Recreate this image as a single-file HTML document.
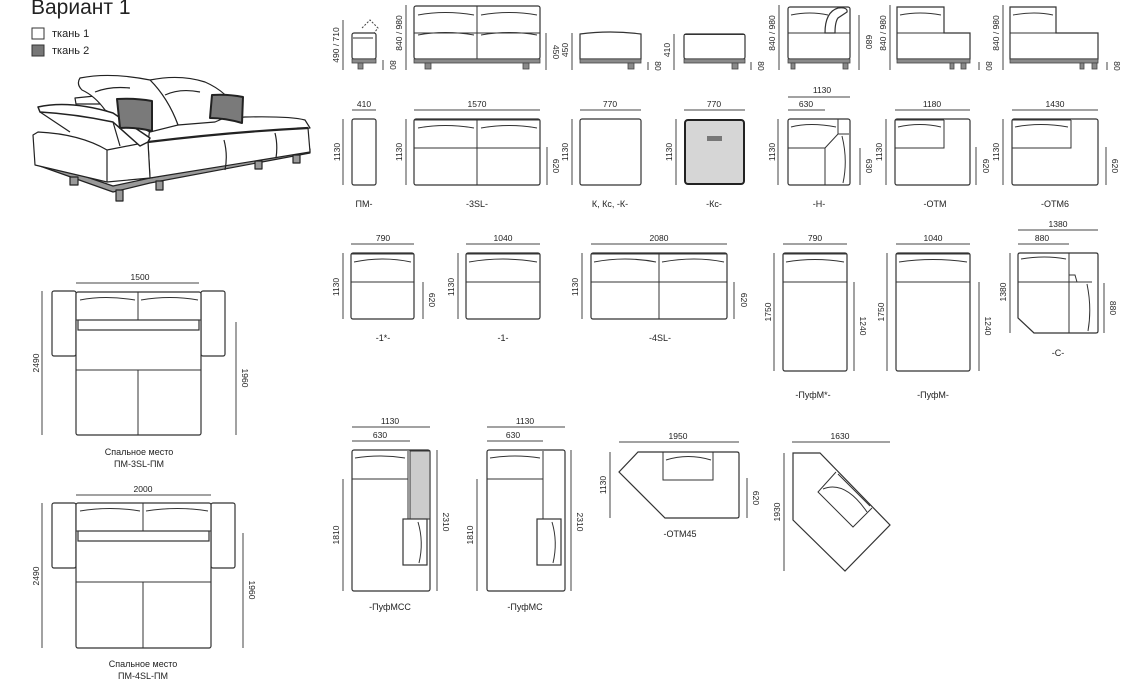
<!DOCTYPE html>
<html><head><meta charset="utf-8"><style>
html,body{margin:0;padding:0;background:#fff;}
svg{display:block;font-family:"Liberation Sans",sans-serif;}
.o{fill:#fff;stroke:#333;stroke-width:1.2;}
.l{fill:none;stroke:#333;stroke-width:1;}
.d{fill:none;stroke:#444;stroke-width:1;}
.g{fill:#8a8a8a;stroke:#444;stroke-width:.8;}
.t{font-size:8.5px;fill:#222;text-anchor:middle;}
.lb{font-size:9px;fill:#222;text-anchor:middle;}
</style></head><body>
<svg width="1121" height="695" viewBox="0 0 1121 695" xmlns="http://www.w3.org/2000/svg">
<text x="31" y="14" font-size="21" fill="#222">Вариант 1</text>
<rect x="32" y="28" width="12" height="11" fill="#fff" stroke="#333"/>
<text x="52" y="37" font-size="11" fill="#222">ткань 1</text>
<rect x="32" y="45" width="12" height="11" fill="#777" stroke="#333"/>
<text x="52" y="54" font-size="11" fill="#222">ткань 2</text>

<!-- perspective sofa -->
<g stroke="#222" stroke-width="1.2" fill="#fff" stroke-linejoin="round">
<path d="M37,165 L113,192 L150,183 L310,153 L310,149 L150,178 L113,186 L37,160Z" fill="#999"/>
<rect x="70" y="177" width="8" height="8" fill="#999"/>
<rect x="116" y="190" width="7" height="11" fill="#999"/>
<rect x="156" y="181" width="7" height="9" fill="#999"/>
<rect x="255" y="161" width="7" height="8" fill="#999"/>
<rect x="293" y="155" width="7" height="8" fill="#999"/>
<path d="M75,98 L95,96 L100,104 L76,104Z"/>
<!-- seat top face -->
<path d="M150,128 Q200,120 245,117 Q290,116 305,120 L310,128 Q230,132 148,142Z"/>
<!-- right back cushion -->
<path d="M150,80 Q180,74 205,82 Q228,92 238,112 L215,122 L178,125 Q168,98 150,80Z"/>
<path d="M165,95 Q180,88 200,92" fill="none"/>
<!-- left back cushion -->
<path d="M80,78 Q110,72 150,80 Q168,98 178,125 L150,132 L105,110 Q95,96 82,90 Q76,84 80,78Z"/>
<path d="M95,92 Q110,86 130,88" fill="none"/>
<!-- main seat front -->
<path d="M148,142 Q230,132 308,128 L310,152 L150,178 Z"/>
<path d="M148,142 Q230,132 308,128" fill="none" stroke-width="2.2"/>
<path d="M224,140 Q228,155 225,170 M275,133 Q278,145 276,158" fill="none"/>
<!-- left box -->
<path d="M33,135 L38,132 Q80,134 107,150 L148,142 L150,178 L107,182 L35,165Z"/>
<path d="M107,150 L107,182" fill="none"/>
<!-- lid -->
<path d="M38,107 Q70,100 113,113 L150,138 L148,142 L140,146 L113,122 Q75,114 40,112Z" stroke-width="1.5"/>
<path d="M40,112 L70,132 M113,122 L120,146" fill="none"/>
<path d="M117,99 Q135,98 152,101 L152,131 Q135,127 120,128Z" fill="#7a7a7a" stroke-width="2"/>
<path d="M212,95 Q228,94 243,97 L242,123 Q225,118 210,118Z" fill="#7a7a7a" stroke-width="2"/>
</g>

<!-- ===== Row 1 front views ===== -->
<g>
<path class="d" d="M343,20 V70"/><text class="t" transform="translate(339,45) rotate(-90)">490 / 710</text>
<rect class="o" x="352" y="33" width="24" height="26" rx="2"/><path class="l" d="M353,38 H373" stroke-width="2"/>
<path class="d" stroke-dasharray="2,1.5" d="M362,28 L370,20 L378,28 L374,33"/>
<rect class="g" x="352" y="59" width="24" height="4"/><rect class="g" x="358" y="63" width="5" height="6"/>
<path class="d" d="M383,60 V70"/><text class="t" transform="translate(390,65) rotate(90)">80</text>
<path class="d" d="M406,5 V70"/><text class="t" transform="translate(402,33) rotate(-90)">840 / 980</text>
<rect class="o" x="414" y="6" width="126" height="53" rx="2"/>
<path class="l" d="M414,33 H540 M477,6 V59" stroke-width="1.5"/>
<path class="l" d="M418,15 Q445,10 474,15 M481,15 Q510,10 537,15 M418,35 Q445,30 474,35 M481,35 Q510,30 537,35"/>
<rect class="g" x="414" y="59" width="126" height="4"/><rect class="g" x="425" y="63" width="6" height="6"/><rect class="g" x="523" y="63" width="6" height="6"/>
<path class="d" d="M546,33 V70"/><text class="t" transform="translate(553,52) rotate(90)">450</text>
<path class="d" d="M572,33 V70"/><text class="t" transform="translate(568,50) rotate(-90)">450</text>
<path class="o" d="M580,34 Q610,30 641,34 V59 H580Z"/>
<rect class="g" x="580" y="59" width="61" height="4"/><rect class="g" x="628" y="63" width="6" height="6"/>
<path class="d" d="M648,62 V70"/><text class="t" transform="translate(655,66) rotate(90)">80</text>
<path class="d" d="M674,34 V70"/><text class="t" transform="translate(670,50) rotate(-90)">410</text>
<rect class="o" x="684" y="34" width="61" height="25" rx="2"/><path class="l" d="M684,34.5 H745" stroke-width="2"/>
<rect class="g" x="684" y="59" width="61" height="4"/><rect class="g" x="732" y="63" width="6" height="6"/>
<path class="d" d="M751,62 V70"/><text class="t" transform="translate(758,66) rotate(90)">80</text>
<path class="d" d="M779,5 V70"/><text class="t" transform="translate(775,33) rotate(-90)">840 / 980</text>
<rect class="o" x="788" y="7" width="62" height="52" rx="2"/>
<path class="l" d="M788,33 H850 M791,15 Q810,11 828,15"/>
<path class="o" d="M825,33 Q825,12 838,8 Q848,7 847,12 L838,18 Q835,22 835,33Z"/>
<rect class="g" x="788" y="59" width="62" height="4"/><rect class="g" x="791" y="63" width="4" height="6"/><rect class="g" x="843" y="63" width="5" height="6"/>
<path class="d" d="M859,15 V70"/><text class="t" transform="translate(866,42) rotate(90)">680</text>
<path class="d" d="M890,5 V70"/><text class="t" transform="translate(886,33) rotate(-90)">840 / 980</text>
<path class="o" d="M897,7 H944 V33 H970 V59 H897Z"/>
<path class="l" d="M897,33 H944 M900,15 Q920,11 941,15"/>
<rect class="g" x="897" y="59" width="73" height="4"/><rect class="g" x="950" y="63" width="4" height="6"/><rect class="g" x="961" y="63" width="5" height="6"/>
<path class="d" d="M979,62 V70"/><text class="t" transform="translate(986,66) rotate(90)">80</text>
<path class="d" d="M1003,5 V70"/><text class="t" transform="translate(999,33) rotate(-90)">840 / 980</text>
<path class="o" d="M1010,7 H1056 V33 H1098 V59 H1010Z"/>
<path class="l" d="M1010,33 H1056 M1013,15 Q1035,11 1053,15"/>
<rect class="g" x="1010" y="59" width="88" height="4"/><rect class="g" x="1080" y="63" width="4" height="6"/><rect class="g" x="1092" y="63" width="5" height="6"/>
<path class="d" d="M1107,62 V70"/><text class="t" transform="translate(1114,66) rotate(90)">80</text>
</g>

<!-- ===== Row 2 top views ===== -->
<g>
<text class="t" x="364" y="107">410</text><path class="d" d="M352,110 H376"/>
<path class="d" d="M343,119 V185"/><text class="t" transform="translate(340,152) rotate(-90)">1130</text>
<rect class="o" x="352" y="119" width="24" height="66" rx="2"/>
<text class="lb" x="364" y="207">ПМ-</text>

<text class="t" x="477" y="107">1570</text><path class="d" d="M414,110 H540"/>
<path class="d" d="M406,119 V185"/><text class="t" transform="translate(402,152) rotate(-90)">1130</text>
<rect class="o" x="414" y="119" width="126" height="66" rx="2"/>
<path class="l" d="M414,148 H540 M477,119 V185"/><path class="l" d="M414,120 H540" stroke-width="2"/>
<path class="l" d="M418,128 Q445,123 474,128 M481,128 Q510,123 537,128"/>
<path class="d" d="M547,147 V185"/><text class="t" transform="translate(553,166) rotate(90)">620</text>
<text class="lb" x="477" y="207">-3SL-</text>

<text class="t" x="610" y="107">770</text><path class="d" d="M580,110 H641"/>
<path class="d" d="M572,119 V185"/><text class="t" transform="translate(568,152) rotate(-90)">1130</text>
<rect class="o" x="580" y="119" width="61" height="66" rx="2"/>
<text class="lb" x="610" y="207">К, Кс, -К-</text>

<text class="t" x="714" y="107">770</text><path class="d" d="M684,110 H745"/>
<path class="d" d="M676,119 V185"/><text class="t" transform="translate(672,152) rotate(-90)">1130</text>
<rect x="685" y="120" width="59" height="64" rx="3" fill="#d6d6d6" stroke="#222" stroke-width="2"/>
<rect x="707" y="136" width="15" height="5" fill="#777"/>
<text class="lb" x="714" y="207">-Кс-</text>

<text class="t" x="822" y="93">1130</text><path class="d" d="M788,97 H850"/>
<text class="t" x="806" y="107">630</text><path class="d" d="M788,110 H825"/>
<path class="d" d="M778,119 V185"/><text class="t" transform="translate(775,152) rotate(-90)">1130</text>
<rect class="o" x="788" y="119" width="62" height="66" rx="2"/>
<path class="l" d="M788,148 H825 V185 M825,148 L838,134 H849 M838,134 V119 M791,127 Q810,122 836,127 M842,136 Q848,160 843,183"/>
<path class="d" d="M860,148 V185"/><text class="t" transform="translate(866,166) rotate(90)">630</text>
<text class="lb" x="819" y="207">-Н-</text>

<text class="t" x="932" y="107">1180</text><path class="d" d="M895,110 H970"/>
<path class="d" d="M886,119 V185"/><text class="t" transform="translate(882,152) rotate(-90)">1130</text>
<rect class="o" x="895" y="119" width="75" height="66" rx="2"/>
<path class="l" d="M895,148 H944 V120 M898,127 Q920,122 941,127"/><path class="l" d="M895,120 H944" stroke-width="2"/>
<path class="d" d="M976,147 V185"/><text class="t" transform="translate(983,166) rotate(90)">620</text>
<text class="lb" x="935" y="207">-ОТМ</text>

<text class="t" x="1055" y="107">1430</text><path class="d" d="M1012,110 H1098"/>
<path class="d" d="M1003,119 V185"/><text class="t" transform="translate(999,152) rotate(-90)">1130</text>
<rect class="o" x="1012" y="119" width="86" height="66" rx="2"/>
<path class="l" d="M1012,148 H1071 V120 M1015,127 Q1040,122 1068,127"/><path class="l" d="M1012,120 H1071" stroke-width="2"/>
<path class="d" d="M1106,147 V185"/><text class="t" transform="translate(1112,166) rotate(90)">620</text>
<text class="lb" x="1055" y="207">-ОТМ6</text>
</g>

<!-- ===== Row 3 ===== -->
<g>
<text class="t" x="383" y="241">790</text><path class="d" d="M351,244 H414"/>
<path class="d" d="M343,253 V319"/><text class="t" transform="translate(339,287) rotate(-90)">1130</text>
<rect class="o" x="351" y="253" width="63" height="66" rx="2"/>
<path class="l" d="M351,282 H414 M354,262 Q383,256 411,262" stroke-width="1.3"/><path class="l" d="M351,254 H414" stroke-width="2"/>
<path class="d" d="M423,282 V319"/><text class="t" transform="translate(429,300) rotate(90)">620</text>
<text class="lb" x="383" y="341">-1*-</text>

<text class="t" x="503" y="241">1040</text><path class="d" d="M466,244 H540"/>
<path class="d" d="M458,253 V319"/><text class="t" transform="translate(454,287) rotate(-90)">1130</text>
<rect class="o" x="466" y="253" width="74" height="66" rx="2"/>
<path class="l" d="M466,282 H540 M469,262 Q503,256 537,262" stroke-width="1.3"/><path class="l" d="M466,254 H540" stroke-width="2"/>
<text class="lb" x="503" y="341">-1-</text>

<text class="t" x="659" y="241">2080</text><path class="d" d="M591,244 H727"/>
<path class="d" d="M582,253 V319"/><text class="t" transform="translate(578,287) rotate(-90)">1130</text>
<rect class="o" x="591" y="253" width="136" height="66" rx="2"/>
<path class="l" d="M591,282 H727 M659,254 V319 M594,262 Q625,256 656,262 M662,262 Q695,256 724,262" stroke-width="1.3"/><path class="l" d="M591,254 H727" stroke-width="2.5"/>
<path class="d" d="M734,282 V319"/><text class="t" transform="translate(741,300) rotate(90)">620</text>
<text class="lb" x="660" y="341">-4SL-</text>

<text class="t" x="815" y="241">790</text><path class="d" d="M783,244 H847"/>
<path class="d" d="M774,253 V371"/><text class="t" transform="translate(771,312) rotate(-90)">1750</text>
<rect class="o" x="783" y="253" width="64" height="118" rx="2"/>
<path class="l" d="M783,282 H847 M786,262 Q815,257 844,262" stroke-width="1.3"/><path class="l" d="M783,254 H847" stroke-width="2"/>
<path class="d" d="M854,282 V371"/><text class="t" transform="translate(860,326) rotate(90)">1240</text>
<text class="lb" x="813" y="398">-ПуфМ*-</text>

<text class="t" x="933" y="241">1040</text><path class="d" d="M896,244 H970"/>
<path class="d" d="M887,253 V371"/><text class="t" transform="translate(884,312) rotate(-90)">1750</text>
<rect class="o" x="896" y="253" width="74" height="118" rx="2"/>
<path class="l" d="M896,282 H970 M899,262 Q933,257 967,262" stroke-width="1.3"/><path class="l" d="M896,254 H970" stroke-width="2"/>
<path class="d" d="M979,282 V371"/><text class="t" transform="translate(985,326) rotate(90)">1240</text>
<text class="lb" x="933" y="398">-ПуфМ-</text>

<text class="t" x="1058" y="227">1380</text><path class="d" d="M1018,230 H1098"/>
<text class="t" x="1042" y="241">880</text><path class="d" d="M1018,244 H1069"/>
<path class="d" d="M1010,253 V333"/><text class="t" transform="translate(1006,292) rotate(-90)">1380</text>
<path class="o" d="M1018,255 Q1018,253 1020,253 H1096 Q1098,253 1098,255 V331 Q1098,333 1096,333 H1034 L1018,318Z"/>
<path class="l" d="M1018,282 H1069 V253 M1069,282 V333 M1069,282 H1092 M1069,275 H1075 L1077,282 M1021,259 Q1045,255 1066,259 M1087,284 Q1092,308 1088,331"/>
<path class="d" d="M1104,283 V333"/><text class="t" transform="translate(1110,308) rotate(90)">880</text>
<text class="lb" x="1058" y="356">-С-</text>
</g>

<!-- ===== Row 4 ===== -->
<g>
<text class="t" x="390" y="424">1130</text><path class="d" d="M352,427 H430"/>
<text class="t" x="380" y="438">630</text><path class="d" d="M352,441 H410"/>
<path class="d" d="M343,479 V591"/><text class="t" transform="translate(339,535) rotate(-90)">1810</text>
<rect class="o" x="352" y="450" width="78" height="141" rx="2"/>
<rect x="410" y="451" width="20" height="68" fill="#ccc" stroke="#333"/>
<path class="l" d="M352,479 H408 V451 M408,479 V519 M355,458 Q380,454 405,458"/>
<rect class="o" x="403" y="519" width="24" height="46"/><path class="l" d="M418,522 Q424,542 419,563"/>
<path class="d" d="M437,450 V591"/><text class="t" transform="translate(443,522) rotate(90)">2310</text>
<text class="lb" x="390" y="610">-ПуфМСС</text>

<text class="t" x="525" y="424">1130</text><path class="d" d="M487,427 H565"/>
<text class="t" x="513" y="438">630</text><path class="d" d="M487,441 H543"/>
<path class="d" d="M477,479 V591"/><text class="t" transform="translate(473,535) rotate(-90)">1810</text>
<rect class="o" x="487" y="450" width="78" height="141" rx="2"/>
<path class="l" d="M487,479 H543 V451 M543,479 V519 M490,458 Q515,454 540,458"/>
<rect class="o" x="537" y="519" width="24" height="46"/><path class="l" d="M552,522 Q558,542 553,563"/>
<path class="d" d="M571,450 V591"/><text class="t" transform="translate(577,522) rotate(90)">2310</text>
<text class="lb" x="525" y="610">-ПуфМС</text>

<text class="t" x="678" y="439">1950</text><path class="d" d="M619,442 H739"/>
<path class="d" d="M610,452 V518"/><text class="t" transform="translate(606,485) rotate(-90)">1130</text>
<path class="o" d="M638,452 H737 Q739,452 739,454 V516 Q739,518 737,518 H665 L619,472Z"/>
<path class="l" d="M663,452 V480 H713 V452 M666,460 Q688,453 711,460"/>
<path class="d" d="M747,478 V518"/><text class="t" transform="translate(753,498) rotate(90)">620</text>
<text class="lb" x="680" y="537">-ОТМ45</text>

<text class="t" x="840" y="439">1630</text><path class="d" d="M792,442 H890"/>
<path class="d" d="M784,453 V571"/><text class="t" transform="translate(780,512) rotate(-90)">1930</text>
<path class="o" d="M793,453 H820 L890,525 L845,571 L793,520Z"/>
<path class="l" d="M836,472 L818,492 L853,527 L872,508 M838,474 L870,506 M823,489 Q845,480 867,512"/>
</g>

<!-- ===== sleeping plans ===== -->
<g>
<text class="t" x="140" y="280">1500</text><path class="d" d="M76,283 H199"/>
<path class="d" d="M42,291 V435"/><text class="t" transform="translate(39,363) rotate(-90)">2490</text>
<rect class="o" x="52" y="291" width="24" height="65" rx="2"/>
<rect class="o" x="201" y="291" width="24" height="65" rx="2"/>
<rect class="o" x="76" y="292" width="125" height="143" rx="2"/>
<path class="l" d="M76,320 H201 M138,292 V320 M76,370 H201 M138,370 V435 M80,300 Q105,295 135,300 M141,300 Q170,295 198,300"/>
<rect class="o" x="78" y="320" width="121" height="10"/>
<path class="d" d="M236,322 V435"/><text class="t" transform="translate(242,378) rotate(90)">1960</text>
<text class="lb" x="139" y="455">Спальное место</text>
<text class="lb" x="139" y="467">ПМ-3SL-ПМ</text>

<text class="t" x="143" y="492">2000</text><path class="d" d="M76,495 H211"/>
<path class="d" d="M42,503 V648"/><text class="t" transform="translate(39,576) rotate(-90)">2490</text>
<rect class="o" x="52" y="503" width="24" height="65" rx="2"/>
<rect class="o" x="211" y="503" width="24" height="65" rx="2"/>
<rect class="o" x="76" y="503" width="135" height="145" rx="2"/>
<path class="l" d="M76,531 H211 M143,503 V531 M76,582 H211 M143,582 V648 M80,511 Q110,506 140,511 M146,511 Q178,506 208,511"/>
<rect class="o" x="78" y="531" width="131" height="10"/>
<path class="d" d="M243,533 V648"/><text class="t" transform="translate(249,590) rotate(90)">1960</text>
<text class="lb" x="143" y="667">Спальное место</text>
<text class="lb" x="143" y="679">ПМ-4SL-ПМ</text>
</g>
</svg>
</body></html>
